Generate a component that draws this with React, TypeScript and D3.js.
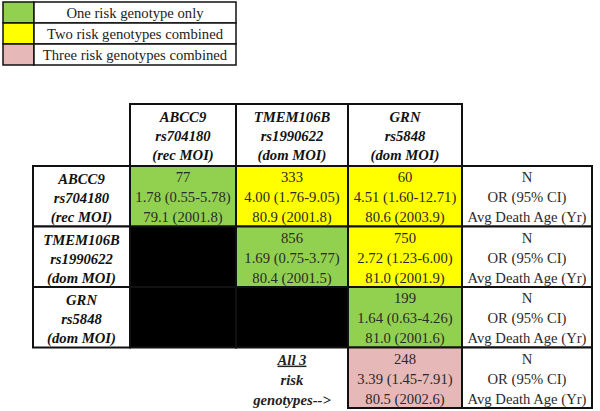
import * as d3 from "d3";
import React, { useEffect, useRef } from "react";

// legend
const legendLabels = ["One risk genotype only", "Two risk genotypes combined", "Three risk genotypes combined"];
const legendColors = ["#92d050", "#ffff00", "#e6b8b7"];

// genotypes (rows and columns of the matrix)
const genes = ["ABCC9", "TMEM106B", "GRN"];
const snps = ["rs704180", "rs1990622", "rs5848"];
const mois = ["(rec MOI)", "(dom MOI)", "(dom MOI)"];

// upper triangle values, null = blacked out
const nCounts = [
  [77, 333, 60],
  [null, 856, 750],
  [null, null, 199],
];
const orEstimates = [
  [1.78, 4.0, 4.51],
  [null, 1.69, 2.72],
  [null, null, 1.64],
];
const ciLower = [
  [0.55, 1.76, 1.6],
  [null, 0.75, 1.23],
  [null, null, 0.63],
];
const ciUpper = [
  [5.78, 9.05, 12.71],
  [null, 3.77, 6.0],
  [null, null, 4.26],
];
const deathAge = [
  [79.1, 80.9, 80.6],
  [null, 80.4, 81.0],
  [null, null, 81.0],
];
const deathYear = [
  [2001.8, 2001.8, 2003.9],
  [null, 2001.5, 2001.9],
  [null, null, 2001.6],
];

// all three combined
const allThreeLabel = ["All 3", "risk", "genotypes-->"];
const allThreeN = 248;
const allThreeOr = [3.39, 1.45, 7.91];
const allThreeAge = [80.5, 2002.6];

const statLabels = ["N", "OR (95% CI)", "Avg Death Age (Yr)"];

const FONT = '"Liberation Serif", "Times New Roman", serif';

function App() {
  const ref = useRef(null);

  useEffect(() => {
    const root = d3.select(ref.current);
    root.selectAll("*").remove();

    const svg = root
      .append("svg")
      .attr("width", 600)
      .attr("height", 411)
      .style("position", "absolute")
      .style("left", "0px")
      .style("top", "0px")
      .style("background", "#fff")
      .style("font-family", FONT)
      .style("font-size", "14.67px");

    const f2 = d3.format(".2f");
    const f1 = d3.format(".1f");

    // ---- legend ----
    const ly = d3.scaleBand().domain(d3.range(legendLabels.length)).range([2, 65]);
    const legend = svg.append("g");
    legend
      .selectAll("rect.sw")
      .data(legendLabels)
      .enter()
      .append("rect")
      .attr("x", 3)
      .attr("y", (d, i) => ly(i))
      .attr("width", 31)
      .attr("height", ly.bandwidth())
      .attr("fill", (d, i) => legendColors[i])
      .attr("stroke", "#111")
      .attr("stroke-width", 1.5);
    legend
      .selectAll("rect.lb")
      .data(legendLabels)
      .enter()
      .append("rect")
      .attr("x", 34)
      .attr("y", (d, i) => ly(i))
      .attr("width", 202)
      .attr("height", ly.bandwidth())
      .attr("fill", "#fff")
      .attr("stroke", "#111")
      .attr("stroke-width", 1.5);
    legend
      .selectAll("text")
      .data(legendLabels)
      .enter()
      .append("text")
      .attr("x", 135)
      .attr("y", (d, i) => ly(i) + ly.bandwidth() / 2)
      .attr("dy", "0.35em")
      .attr("text-anchor", "middle")
      .attr("fill", "#222")
      .text((d) => d);

    // ---- table ----
    const colEdges = [33, 130, 236, 348, 462, 592];
    const rowKeys = ["r0", "r1", "r2", "all"];
    const y = d3.scaleBand().domain(rowKeys).range([166, 408]);
    const headerTop = 104;
    const lineH = 20;

    const cells = [];
    // header cells
    genes.forEach((g, j) => {
      cells.push({
        x0: colEdges[j + 1],
        x1: colEdges[j + 2],
        y0: headerTop,
        y1: y("r0"),
        fill: "#fff",
        lines: [g, snps[j], mois[j]],
        bold: true,
      });
    });
    // matrix rows
    genes.forEach((g, i) => {
      const y0 = y(rowKeys[i]);
      const y1 = y0 + y.bandwidth();
      cells.push({ x0: colEdges[0], x1: colEdges[1], y0, y1, fill: "#fff", lines: [g, snps[i], mois[i]], bold: true });
      genes.forEach((h, j) => {
        const n = nCounts[i][j];
        if (n == null) {
          cells.push({ x0: colEdges[j + 1], x1: colEdges[j + 2], y0, y1, fill: "#000", lines: [] });
        } else {
          cells.push({
            x0: colEdges[j + 1],
            x1: colEdges[j + 2],
            y0,
            y1,
            fill: i === j ? legendColors[0] : legendColors[1],
            lines: [
              String(n),
              `${f2(orEstimates[i][j])} (${f2(ciLower[i][j])}-${f2(ciUpper[i][j])})`,
              `${f1(deathAge[i][j])} (${f1(deathYear[i][j])})`,
            ],
          });
        }
      });
      cells.push({ x0: colEdges[4], x1: colEdges[5], y0, y1, fill: "#fff", lines: statLabels });
    });
    // all three row
    const ya = y("all");
    cells.push({
      x0: colEdges[3],
      x1: colEdges[4],
      y0: ya,
      y1: ya + y.bandwidth(),
      fill: legendColors[2],
      lines: [
        String(allThreeN),
        `${f2(allThreeOr[0])} (${f2(allThreeOr[1])}-${f2(allThreeOr[2])})`,
        `${f1(allThreeAge[0])} (${f1(allThreeAge[1])})`,
      ],
    });
    cells.push({ x0: colEdges[4], x1: colEdges[5], y0: ya, y1: ya + y.bandwidth(), fill: "#fff", lines: statLabels });

    const table = svg.append("g");
    table
      .selectAll("rect")
      .data(cells)
      .enter()
      .append("rect")
      .attr("x", (d) => d.x0)
      .attr("y", (d) => d.y0)
      .attr("width", (d) => d.x1 - d.x0)
      .attr("height", (d) => d.y1 - d.y0)
      .attr("fill", (d) => d.fill)
      .attr("stroke", "#111")
      .attr("stroke-width", 2);

    cells.forEach((c) => {
      const top = c.bold ? c.y0 + 13 : c.y0 + 11;
      const step = c.bold ? 19 : lineH;
      c.lines.forEach((t, k) => {
        table
          .append("text")
          .attr("x", (c.x0 + c.x1) / 2)
          .attr("y", top + k * step)
          .attr("dy", "0.35em")
          .attr("text-anchor", "middle")
          .attr("fill", c.bold ? "#111" : "#2a2a2a")
          .attr("font-weight", c.bold ? "bold" : "normal")
          .attr("font-style", c.bold ? "italic" : "normal")
          .text(t);
      });
    });

    // "All 3 risk genotypes-->" label
    const cx = (colEdges[2] + colEdges[3]) / 2;
    allThreeLabel.forEach((t, k) => {
      table
        .append("text")
        .attr("x", cx)
        .attr("y", ya + 12 + k * 20)
        .attr("dy", "0.35em")
        .attr("text-anchor", "middle")
        .attr("fill", "#222")
        .attr("font-weight", "bold")
        .attr("font-style", "italic")
        .attr("text-decoration", k === 0 ? "underline" : null)
        .text(t);
    });
  }, []);

  return <div ref={ref} />;
}

export default App;
